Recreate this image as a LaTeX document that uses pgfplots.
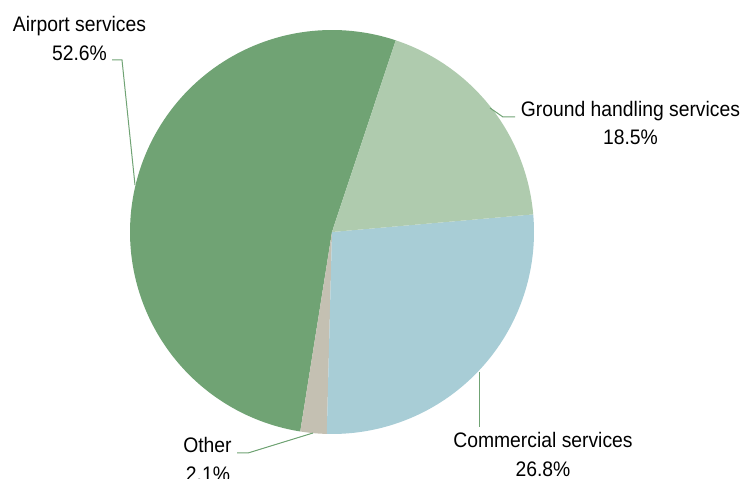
\documentclass[border=0pt]{standalone}
\usepackage{pgfplots}
\pgfplotsset{compat=1.18}
\usepackage{fontspec}
\setmainfont{Liberation Sans}[FakeStretch=0.92]
\definecolor{cAir}{RGB}{112,163,116}
\definecolor{cGround}{RGB}{175,203,174}
\definecolor{cComm}{RGB}{168,205,214}
\definecolor{cOther}{RGB}{196,192,178}
% shares (%), in drawing order (counter-clockwise from the start angle)
\def\vAir{52.6}
\def\vOther{2.1}
\def\vComm{26.8}
\def\vGround{18.5}
\def\aStart{71.6}
\pgfmathsetmacro\aA{\aStart+3.6*\vAir}
\pgfmathsetmacro\aB{\aA+3.6*\vOther}
\pgfmathsetmacro\aC{\aB+3.6*\vComm}
\pgfmathsetmacro\aD{\aC+3.6*\vGround}
\def\cx{332}\def\cy{-232}\def\R{202}
\tikzset{lbl/.style={anchor=base, inner sep=0pt, font=\fontsize{21}{28}\selectfont}}
\begin{document}
\begin{tikzpicture}
\begin{axis}[scale only axis, width=744pt, height=479pt,
  at={(0pt,0pt)}, anchor=south west,
  xmin=0, xmax=744, ymin=-479, ymax=0, ticks=none,
  axis line style={draw=none}, clip=true]
\addplot[fill=cAir, draw=none, domain=\aStart:\aA, samples=120, variable=\t]
  ({\cx+\R*cos(t)},{\cy+\R*sin(t)}) -- (axis cs:\cx,\cy) -- cycle;
\addplot[fill=cOther, draw=none, domain=\aA:\aB, samples=10, variable=\t]
  ({\cx+\R*cos(t)},{\cy+\R*sin(t)}) -- (axis cs:\cx,\cy) -- cycle;
\addplot[fill=cComm, draw=none, domain=\aB:\aC, samples=80, variable=\t]
  ({\cx+\R*cos(t)},{\cy+\R*sin(t)}) -- (axis cs:\cx,\cy) -- cycle;
\addplot[fill=cGround, draw=none, domain=\aC:\aD, samples=60, variable=\t]
  ({\cx+\R*cos(t)},{\cy+\R*sin(t)}) -- (axis cs:\cx,\cy) -- cycle;
% leader lines
\addplot[cAir, line width=1pt] coordinates {(112,-60) (122,-60) (135,-185)};
\addplot[cAir, line width=1pt] coordinates {(490,-108) (503,-117) (515,-117)};
\addplot[cAir, line width=1pt] coordinates {(479,-372) (479,-427)};
\addplot[cAir, line width=1pt] coordinates {(237,-453) (248,-453) (313,-433)};
% labels
\node[lbl] at (axis cs:79.5,-32) {Airport services};
\node[lbl] at (axis cs:79.5,-61) {52.6\%};
\node[lbl] at (axis cs:630.5,-117) {Ground handling services};
\node[lbl] at (axis cs:630.5,-145) {18.5\%};
\node[lbl] at (axis cs:543,-448) {Commercial services};
\node[lbl] at (axis cs:543,-477) {26.8\%};
\node[lbl] at (axis cs:207.5,-453) {Other};
\node[lbl] at (axis cs:208,-481) {2.1\%};
\end{axis}
\pgfresetboundingbox
\useasboundingbox (0pt,0pt) rectangle (744pt,479pt);
\end{tikzpicture}
\end{document}
